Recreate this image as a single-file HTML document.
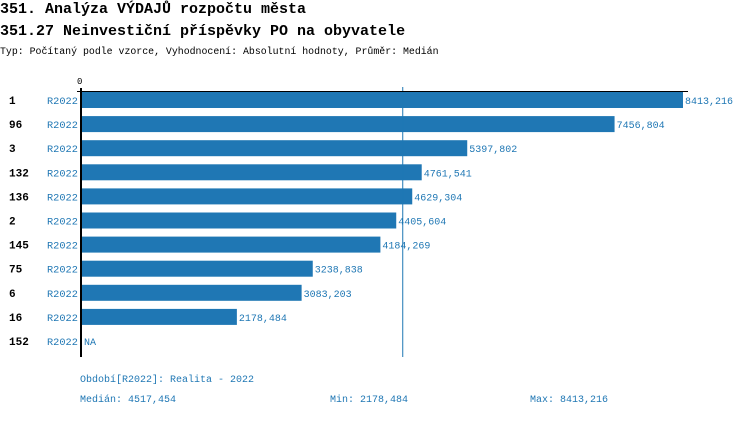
<!DOCTYPE html>
<html><head><meta charset="utf-8"><style>
body{margin:0;background:#fff;width:750px;height:416px;overflow:hidden;font-family:"Liberation Mono",monospace;}
</style></head><body>
<svg width="750" height="416" xmlns="http://www.w3.org/2000/svg" font-family="Liberation Mono, monospace">
<text x="0" y="13" font-size="15" font-weight="bold" fill="#000">351. Analýza VÝDAJŮ rozpočtu města</text>
<text x="0" y="35" font-size="15" font-weight="bold" fill="#000">351.27 Neinvestiční příspěvky PO na obyvatele</text>
<text x="0" y="54" font-size="9.9" fill="#000">Typ: Počítaný podle vzorce, Vyhodnocení: Absolutní hodnoty, Průměr: Medián</text>
<text x="77" y="84" font-size="9" fill="#000">0</text>
<g id="bars"></g>
<line id="med" y1="87" y2="357" stroke="#1f77b4" stroke-width="1"/>
<line x1="81" x2="81" y1="88" y2="357" stroke="#000" stroke-width="2"/>
<line x1="77" x2="688" y1="91.5" y2="91.5" stroke="#000" stroke-width="1"/>
<text x="80" y="382" font-size="10" fill="#1f77b4">Období[R2022]: Realita - 2022</text>
<text x="80" y="402" font-size="10" fill="#1f77b4">Medián: 4517,454</text>
<text x="330" y="402" font-size="10" fill="#1f77b4">Min: 2178,484</text>
<text x="530" y="402" font-size="10" fill="#1f77b4">Max: 8413,216</text>
</svg>
<script>
const categories=["1","96","3","132","136","2","145","75","6","16","152"];
const values=[8413.216,7456.804,5397.802,4761.541,4629.304,4405.604,4184.269,3238.838,3083.203,2178.484,null];
const medianValue=4517.454;
const NS="http://www.w3.org/2000/svg";
const x0=81, xMax=8413.216, wMax=602;
const xs=v=>x0+v/xMax*wMax;
const ys=i=>100+i*24.1;
const g=document.getElementById('bars');
function t(x,y,s,txt,fill,bold){const e=document.createElementNS(NS,'text');e.setAttribute('x',x);e.setAttribute('y',y);e.setAttribute('font-size',s);e.setAttribute('fill',fill);if(bold)e.setAttribute('font-weight','bold');e.textContent=txt;g.appendChild(e);return e;}
categories.forEach((c,i)=>{
  const cy=ys(i);
  const a=t(9,cy+4,11,c,"#000",true);
  
  
  const b=t(47,cy+4,10.3,"R2022","#1f77b4");
  
  
  const v=values[i];
  if(v==null){
    const n=t(84,cy+4,10,"NA","#1f77b4");
    
    
    return;
  }
  const r=document.createElementNS(NS,'rect');
  r.setAttribute('x',x0);r.setAttribute('y',cy-8);r.setAttribute('width',xs(v)-x0);r.setAttribute('height',16);r.setAttribute('fill','#1f77b4');
  
  
  g.appendChild(r);
  const l=t(xs(v)+2,cy+4,10,v.toFixed(3).replace('.',','),"#1f77b4");
  
  
});
const m=document.getElementById('med');m.setAttribute('x1',xs(medianValue)-1.5);m.setAttribute('x2',xs(medianValue)-1.5);
</script>
</body></html>
